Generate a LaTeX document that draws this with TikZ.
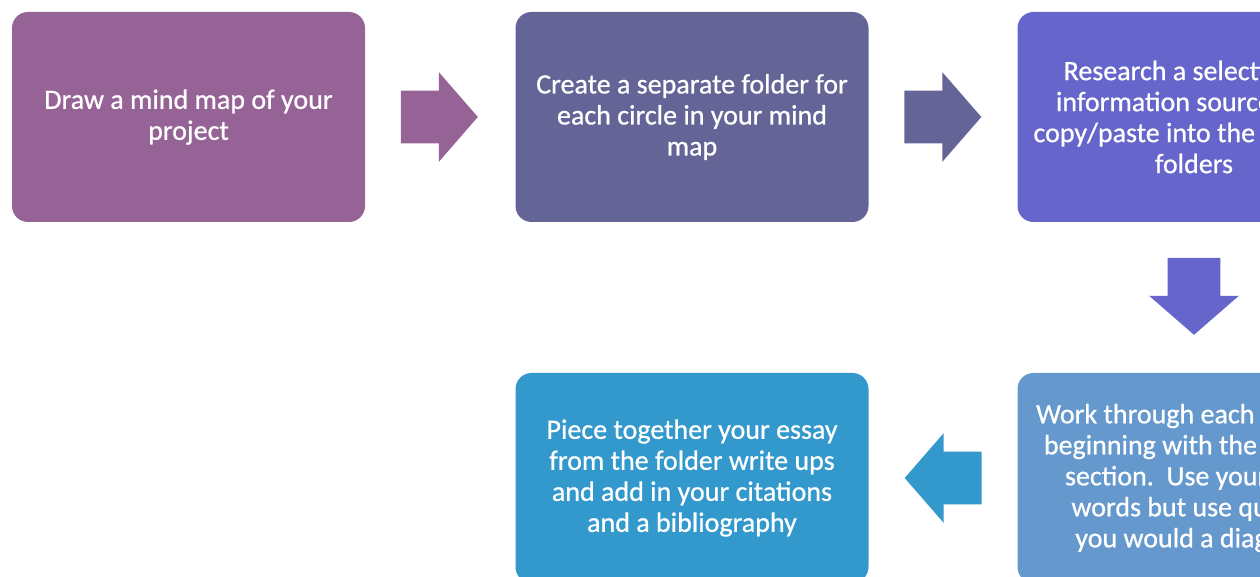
\documentclass[tikz,border=0pt]{standalone}
\usepackage{fontspec}
\setmainfont{Carlito}
\newfontfamily\stepfont{Carlito}[FakeBold=0.7]
\usetikzlibrary{shapes.arrows,calc}

\definecolor{plum}{RGB}{150,99,150}
\definecolor{dusk}{RGB}{100,100,150}
\definecolor{iris}{RGB}{101,101,204}
\definecolor{steel}{RGB}{101,152,204}
\definecolor{ocean}{RGB}{51,152,204}

\tikzset{
  stepbox/.style={rectangle, rounded corners=8pt, draw=none,
    minimum width=176.5pt, minimum height=105pt, inner sep=0pt,
    text=white, align=center, font=\stepfont\fontsize{14}{15.5}\selectfont},
  blockarrow/.style={single arrow, draw=none, inner sep=0pt, anchor=tail,
    text height=26pt, text depth=0pt, minimum width=44.5pt,
    single arrow head extend=9.25pt, single arrow tip angle=98,
    minimum height=38.5pt},
}

\begin{document}
\begin{tikzpicture}[x=0.5pt,y=-0.5pt]
  \clip (0,0) rectangle (1260,577);
  % the five steps
  \node[stepbox, fill=plum]  (s1) at (188.5,117) {Draw a mind map of your\\project};
  \node[stepbox, fill=dusk]  (s2) at (692,117)   {Create a separate folder for\\each circle in your mind\\map};
  \node[stepbox, fill=iris]  (s3) at (1194,117)  {Research a selection of\\information sources and\\copy/paste into the relevant\\folders};
  \node[stepbox, fill=steel] (s4) at (1194,478)  {Work through each heading\\beginning with the second\\section.\ \ Use your own\\words but use quotes\\you would a diagram};
  \node[stepbox, fill=ocean] (s5) at (692,478)   {Piece together your essay\\from the folder write ups\\and add in your citations\\and a bibliography};
  % block arrows between them
  \node[blockarrow, fill=plum] (a1) at ($(s1.east)+(35,0)$) {};
  \node[blockarrow, fill=dusk] (a2) at ($(s2.east)+(35,0)$) {};
  \node[blockarrow, fill=iris, rotate=-90] (a3) at ($(s3.south)+(0,35)$) {};
  \node[blockarrow, fill=ocean, rotate=180] (a4) at ($(s4.west)+(-35,0)$) {};
\end{tikzpicture}
\end{document}
